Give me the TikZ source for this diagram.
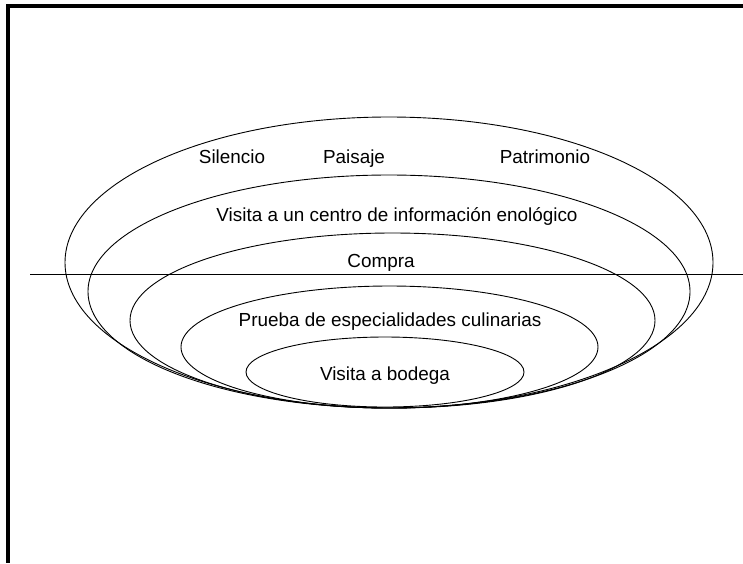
\documentclass[tikz,border=0pt]{standalone}
\usepackage{fontspec}
\setmainfont{Liberation Sans}
\begin{document}
\begin{tikzpicture}[x=1pt,y=-1pt,
  ring/.style={line width=0.9pt},
  lbl/.style={font=\fontsize{18.9}{20}\selectfont, inner sep=0pt, anchor=base},
  frameline/.style={line width=3.8pt}]
\useasboundingbox (0,0) rectangle (743,563);
% frame (top and left only)
\coordinate (ftl) at (8,6);
\coordinate (ftr) at (743,6);
\coordinate (fbl) at (8,563);
\draw[frameline] (ftr) -- (ftl) -- (fbl);
% ellipses
\draw[ring] (389,262.5) ellipse [x radius=324, y radius=145.5];
\draw[ring] (389,291.5) ellipse [x radius=301, y radius=116.5];
\draw[ring] (392.5,320.5) ellipse [x radius=262.5, y radius=87.5];
\draw[ring] (389.5,347) ellipse [x radius=208.5, y radius=61];
\draw[ring] (385,372) ellipse [x radius=139, y radius=35];
% horizontal line
\coordinate (hl) at (30,274);
\coordinate (hr) at (743,274);
\draw[ring] (hl) -- (hr);
% labels
\node[lbl] (sil) at (232,163) {Silencio};
\node[lbl] (pai) at (354,163) {Paisaje};
\node[lbl] (pat) at (545,163) {Patrimonio};
\node[lbl] (cen) at (397,221.5) {Visita a un centro de información enológico};
\node[lbl] (com) at (381,267) {Compra};
\node[lbl] (pru) at (390,326) {Prueba de especialidades culinarias};
\node[lbl] (bod) at (385,380) {Visita a bodega};
\end{tikzpicture}
\end{document}
